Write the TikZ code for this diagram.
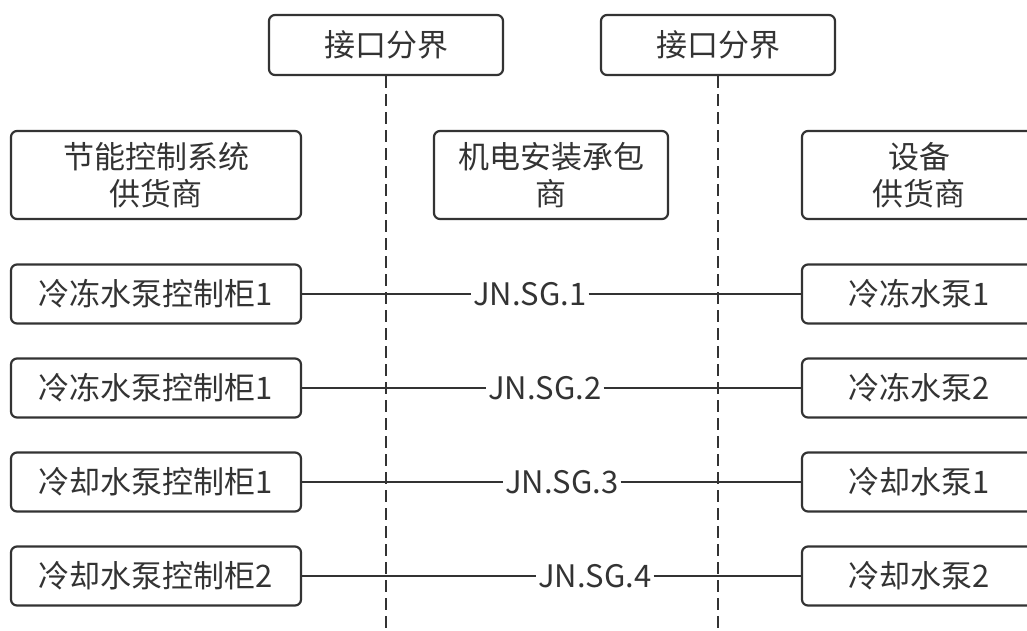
\documentclass[tikz,border=0pt]{standalone}
\usepackage{fontspec}
\setmainfont{Noto Sans CJK SC}
\definecolor{linegray}{HTML}{333333}
\definecolor{textgray}{HTML}{333333}
\tikzstyle{box}=[draw=linegray,line width=2.2pt,rounded corners=6pt,align=center,text=textgray,inner sep=0pt,minimum width=234pt,minimum height=59pt]
\tikzstyle{wide}=[box,minimum width=290pt]
\tikzstyle{head}=[minimum height=88pt]
\tikzstyle{tag}=[text=textgray,inner sep=1pt]
\begin{document}
\begin{tikzpicture}[x=1pt,y=-1pt,line width=2.2pt,font=\fontsize{31}{37}\selectfont]
\useasboundingbox (0,0) rectangle (1027,630);
% interface boundaries
\node[box,minimum height=60pt] (b1) at (386,45) {接口分界};
\node[box,minimum height=60pt] (b2) at (718,45) {接口分界};
\coordinate (e1) at (386,630);
\coordinate (e2) at (718,630);
\draw[linegray,dash pattern=on 12pt off 6pt] (b1) -- (e1);
\draw[linegray,dash pattern=on 12pt off 6pt] (b2) -- (e2);
% parties
\node[wide,head] (sup)  at (156,175) {节能控制系统\\供货商};
\node[box,head]  (inst) at (551,175) {机电安装承包\\商};
\node[box,head]  (dev)  at (919,175) {设备\\供货商};
% cabinets, tags and pumps
\node[wide] (c1) at (156,294) {冷冻水泵控制柜1};
\node[wide] (c2) at (156,388) {冷冻水泵控制柜1};
\node[wide] (c3) at (156,482) {冷却水泵控制柜1};
\node[wide] (c4) at (156,576) {冷却水泵控制柜2};
\node[tag]  (t1) at (530,294) {JN.SG.1};
\node[tag]  (t2) at (545,388) {JN.SG.2};
\node[tag]  (t3) at (562,482) {JN.SG.3};
\node[tag]  (t4) at (595,576) {JN.SG.4};
\node[box]  (p1) at (919,294) {冷冻水泵1};
\node[box]  (p2) at (919,388) {冷冻水泵2};
\node[box]  (p3) at (919,482) {冷却水泵1};
\node[box]  (p4) at (919,576) {冷却水泵2};
\path[draw=linegray]
(c1) -- (t1) -- (p1)
(c2) -- (t2) -- (p2)
(c3) -- (t3) -- (p3)
(c4) -- (t4) -- (p4);
\end{tikzpicture}
\end{document}
